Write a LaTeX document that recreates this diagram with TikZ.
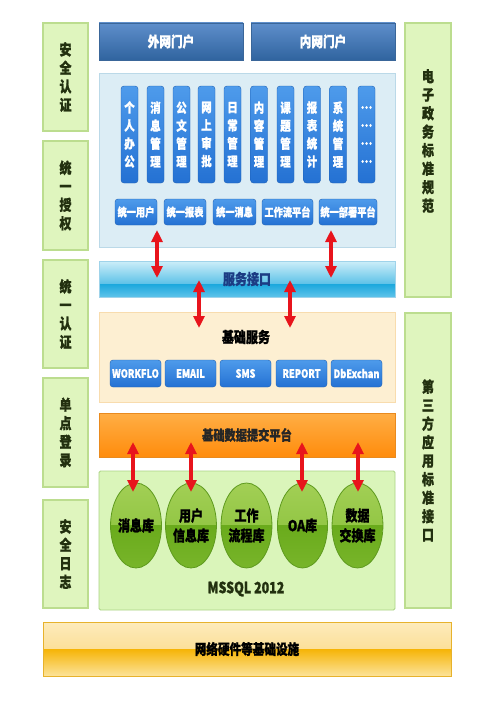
\documentclass[tikz,border=0pt]{standalone}
\usepackage{fontspec}
\setmainfont{Noto Sans CJK SC}[FakeStretch=0.8, BoldFeatures={FakeBold=1.2}]
\usetikzlibrary{arrows.meta,shapes.geometric}
\definecolor{colfill}{HTML}{DFF5BE}
\definecolor{colborder}{HTML}{BCDD8F}
\definecolor{coltext}{HTML}{22300F}
\definecolor{portaltop}{HTML}{5E8ECB}
\definecolor{portalbot}{HTML}{30649F}
\definecolor{portalborder}{HTML}{3A6699}
\definecolor{bluepanel}{HTML}{DCEDF5}
\definecolor{bluepanelb}{HTML}{BBD9E8}
\definecolor{pilltop}{HTML}{4E9BEB}
\definecolor{pillbot}{HTML}{2471D3}
\definecolor{pillborder}{HTML}{1D5FB3}
\definecolor{svctop}{HTML}{CDEEF9}
\definecolor{svcmid}{HTML}{1CA8DD}
\definecolor{svcbot}{HTML}{5EC3EA}
\definecolor{svcborder}{HTML}{9FD3EA}
\definecolor{svctext}{HTML}{1C3C84}
\definecolor{basefill}{HTML}{FDEFD2}
\definecolor{baseborder}{HTML}{F8DCAE}
\definecolor{orgtop}{HTML}{FFAE45}
\definecolor{orgbot}{HTML}{FF8C0C}
\definecolor{orgborder}{HTML}{E98A1E}
\definecolor{greenfill}{HTML}{DAF5BA}
\definecolor{greenborder}{HTML}{ABD385}
\definecolor{elltop}{HTML}{A2CF55}
\definecolor{ellmid}{HTML}{84BE35}
\definecolor{elllow}{HTML}{6AAB1C}
\definecolor{ellbot}{HTML}{78B52A}
\definecolor{ellborder}{HTML}{5E9A1E}
\definecolor{yeltop}{HTML}{FDEBBB}
\definecolor{yelmid}{HTML}{FAD478}
\definecolor{yellow2}{HTML}{F6B406}
\definecolor{yelbot}{HTML}{FCE39A}
\definecolor{yelborder}{HTML}{E7B22C}
\definecolor{arrowred}{HTML}{E8141C}
\begin{document}
\begin{tikzpicture}[x=1pt,y=-1pt,
  colbox/.style={draw=colborder, line width=1.3pt, fill=colfill, inner sep=0pt,
    text=coltext, align=center, font=\bfseries\fontsize{15}{18.5}\selectfont},
  portal/.style={draw=portalborder, top color=portaltop, bottom color=portalbot,
    text=white, inner sep=0pt, minimum width=144, minimum height=37,
    font=\bfseries\fontsize{14.5}{16}\selectfont},
  pill/.style={draw=pillborder, rounded corners=3pt, top color=pilltop, bottom color=pillbot,
    text=white, inner sep=0pt, align=center, minimum width=17, minimum height=97,
    font=\bfseries\fontsize{13}{18}\selectfont},
  btn/.style={draw=pillborder, rounded corners=3pt, top color=pilltop, bottom color=pillbot,
    text=white, inner sep=0pt, minimum height=26,
    font=\bfseries\fontsize{11.5}{13}\selectfont},
  panel/.style={inner sep=0pt, minimum width=296},
  db/.style={ellipse, draw=ellborder, line width=0.8pt, minimum width=50, minimum height=85,
    inner sep=0pt, align=center, text=black, font=\bfseries\fontsize{15}{20}\selectfont,
    path picture={
      \shade[top color=elltop, bottom color=ellmid]
        (path picture bounding box.north west) rectangle (path picture bounding box.east);
      \shade[top color=elllow, bottom color=ellbot]
        (path picture bounding box.west) rectangle (path picture bounding box.south east);}},
  dbl/.style={draw=arrowred, line width=3.2pt,
    {Triangle[width=11pt,length=12pt]}-{Triangle[width=11pt,length=12pt]}},
  label/.style={inner sep=0pt, font=\bfseries\fontsize{15}{16}\selectfont}
]
\useasboundingbox[fill=white] (0,0) rectangle (500,709);

% left column
\node[colbox, minimum width=45, minimum height=108] (c1) at (65.5,77) {安\\全\\认\\证};
\node[colbox, minimum width=45, minimum height=109] (c2) at (65.5,195.5) {统\\一\\授\\权};
\node[colbox, minimum width=45, minimum height=108] (c3) at (65.5,314) {统\\一\\认\\证};
\node[colbox, minimum width=45, minimum height=109] (c4) at (65.5,432.5) {单\\点\\登\\录};
\node[colbox, minimum width=45, minimum height=108] (c5) at (65.5,554) {安\\全\\日\\志};

% right column
\node[colbox, minimum width=46, minimum height=274] (r1) at (428,160) {};
\node[colbox, fill=none, draw=none] (r1t) at (428,141) {电\\子\\政\\务\\标\\准\\规\\范};
\node[colbox, minimum width=46, minimum height=295] (r2) at (428,460.5) {第\\三\\方\\应\\用\\标\\准\\接\\口};

% portals
\node[portal] (p1) at (171,41.5) {外网门户};
\node[portal] (p2) at (323,41.5) {内网门户};

% application panel
\node[panel, draw=bluepanelb, line width=0.8pt, fill=bluepanel, minimum height=174] (app) at (247,160) {};
\foreach \x/\t [count=\i] in {129.5/个\\人\\办\\公, 155.5/消\\息\\管\\理, 181.5/公\\文\\管\\理,
  206.5/网\\上\\审\\批, 232.5/日\\常\\管\\理, 259/内\\容\\管\\理, 285.5/课\\题\\管\\理,
  312/报\\表\\统\\计, 338/系\\统\\管\\理, 366.5/…\\…\\…\\…}
  \node[pill] (m\i) at (\x,134.5) {\t};
\node[btn, minimum width=42] (u1) at (136,212) {统一用户};
\node[btn, minimum width=42] (u2) at (185,212) {统一报表};
\node[btn, minimum width=43] (u3) at (234.5,212) {统一消息};
\node[btn, minimum width=51] (u4) at (287.5,212) {工作流平台};
\node[btn, minimum width=58] (u5) at (348,212) {统一部署平台};

% service interface
\node[panel, draw=svcborder, line width=0.8pt, minimum height=36, text=svctext,
  font=\bfseries\fontsize{15}{16}\selectfont,
  path picture={
    \shade[top color=svctop, bottom color=svcmid]
      (path picture bounding box.north west) rectangle ([yshift=-5pt]path picture bounding box.east);
    \shade[top color=svcmid, bottom color=svcbot]
      ([yshift=-5.2pt]path picture bounding box.west) rectangle (path picture bounding box.south east);}
  ] (svc) at (247,279) {服务接口};

% base services
\node[panel, draw=baseborder, line width=0.8pt, fill=basefill, minimum height=90] (base) at (247,357) {};
\node[label] (baset) at (246,337) {基础服务};
\node[btn, minimum width=51, minimum height=27] (s1) at (135.5,373.5) {WORKFLO};
\node[btn, minimum width=51, minimum height=27] (s2) at (190.5,373.5) {EMAIL};
\node[btn, minimum width=51, minimum height=27] (s3) at (245.5,373.5) {SMS};
\node[btn, minimum width=51, minimum height=27] (s4) at (301.5,373.5) {REPORT};
\node[btn, minimum width=51, minimum height=27] (s5) at (356.5,373.5) {DbExchan};

% data submit platform
\node[panel, draw=orgborder, line width=0.8pt, top color=orgtop, bottom color=orgbot,
  minimum height=44, font=\bfseries\fontsize{14}{16}\selectfont, text=black!85] (sub) at (247,435) {基础数据提交平台};

% database panel
\node[panel, draw=greenborder, line width=0.8pt, fill=greenfill, minimum height=139, rounded corners=1.5pt] (dbp) at (247,540.5) {};
\node[db] (d1) at (136,525.5) {消息库};
\node[db] (d2) at (191,525.5) {用户\\信息库};
\node[db] (d3) at (246.5,525.5) {工作\\流程库};
\node[db] (d4) at (302.5,525.5) {OA库};
\node[db] (d5) at (357.5,525.5) {数据\\交换库};
\node[inner sep=0pt, text=coltext, font=\bfseries\fontsize{15.5}{17}\selectfont] (ms) at (246,589) {MSSQL 2012};

% infrastructure bar
\node[draw=yelborder, line width=0.8pt, inner sep=0pt, minimum width=408, minimum height=54,
  font=\bfseries\fontsize{14.5}{16}\selectfont, text=black,
  path picture={
    \shade[top color=yeltop, bottom color=yelmid]
      (path picture bounding box.north west) rectangle (path picture bounding box.east);
    \shade[top color=yellow2, bottom color=yelbot]
      (path picture bounding box.west) rectangle (path picture bounding box.south east);}
  ] (infra) at (247,649) {网络硬件等基础设施};

% arrows
\coordinate (a1t) at (157,230);
\coordinate (a1b) at (157,278);
\coordinate (a2t) at (331,230);
\coordinate (a2b) at (331,278);
\coordinate (a3t) at (199,280);
\coordinate (a3b) at (199,328);
\coordinate (a4t) at (290,280);
\coordinate (a4b) at (290,328);
\draw[dbl] (a1t) -- (a1b);
\draw[dbl] (a2t) -- (a2b);
\draw[dbl] (a3t) -- (a3b);
\draw[dbl] (a4t) -- (a4b);
\foreach \x/\i in {133/1, 191/2, 302/4, 358/5}{
  \coordinate (b\i t) at (\x,442);
  \coordinate (b\i b) at (\x,492);
  \draw[dbl] (b\i t) -- (b\i b);
}
\end{tikzpicture}
\end{document}
